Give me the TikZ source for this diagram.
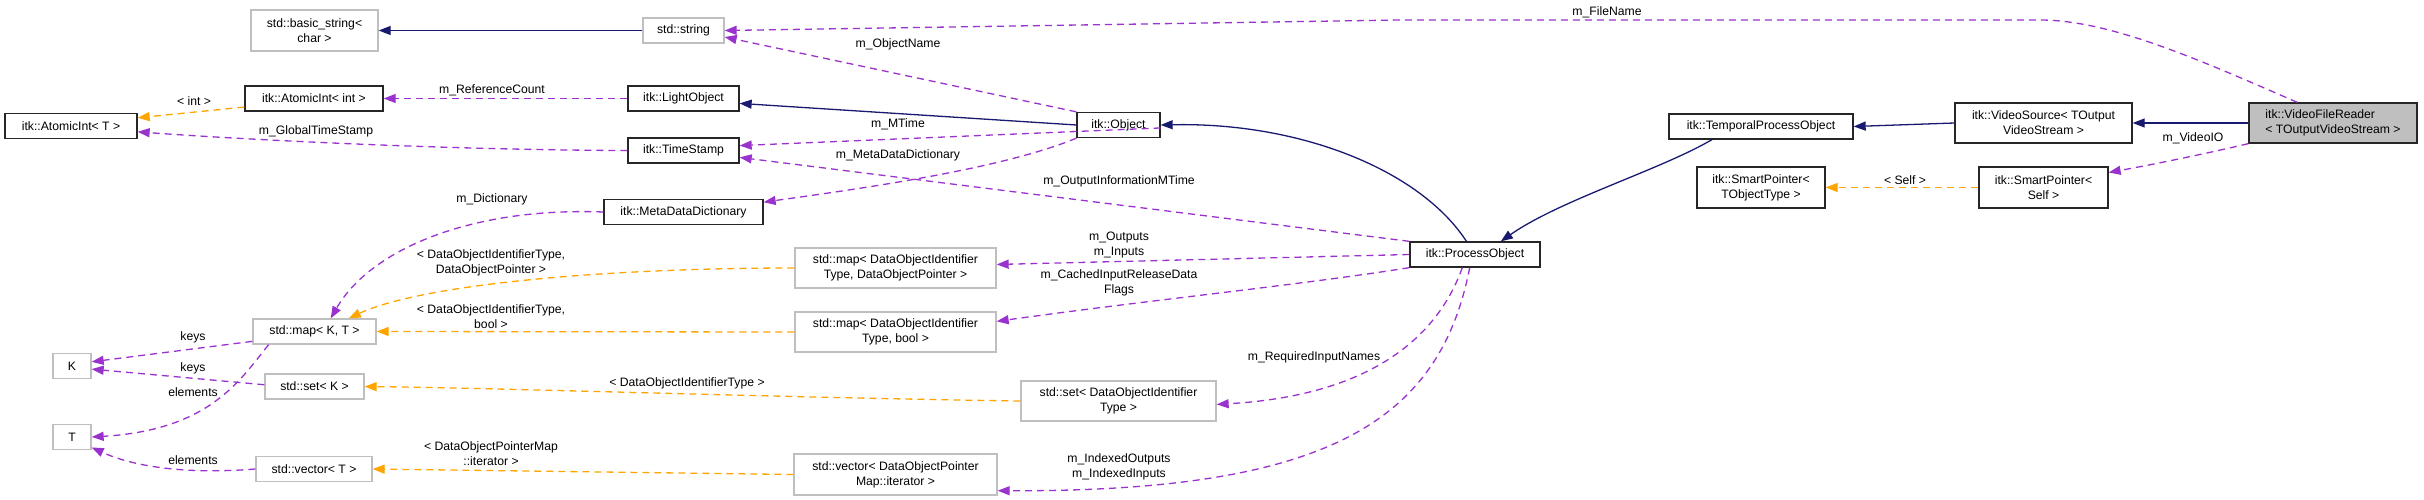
\documentclass[tikz,border=0pt]{standalone}
\usepackage{fontspec}
\setmainfont{Liberation Sans}
\usetikzlibrary{arrows.meta}
\definecolor{dxNavy}{HTML}{191970}
\definecolor{dxOrchid}{HTML}{9A32CD}
\definecolor{dxOrange}{HTML}{FFA500}
\definecolor{dxGray}{HTML}{BFBFBF}

\begin{document}
\begin{tikzpicture}[
  x=1pt, y=-1pt,
  font=\fontsize{12.2}{15}\selectfont,
  cls/.style={draw=black!85, line width=1.3pt, fill=white, align=center, inner sep=2pt, minimum height=25pt},
  ext/.style={cls, draw=dxGray},
  cur/.style={cls, fill=dxGray, align=left},
  lbl/.style={inner sep=0pt, align=center},
  inh/.style={-{Triangle[length=12pt,width=9pt]}, line width=1.3pt, draw=dxNavy},
  use/.style={-{Triangle[length=12pt,width=9pt]}, line width=1.3pt, draw=dxOrchid, dash pattern=on 7pt off 5pt},
  tpl/.style={use, draw=dxOrange}
]
  \useasboundingbox (0,0) rectangle (2424,500);

  \node[ext, minimum width=127pt, minimum height=41pt] (bstr) at (314.5,30.5) {std::basic\_string<\\char >};
  \node[ext, minimum width=81pt] (str) at (683.5,30.5) {std::string};
  \node[cls, minimum width=138pt] (aint) at (314,98.5) {itk::AtomicInt< int >};
  \node[cls, minimum width=111pt] (light) at (683.5,98.5) {itk::LightObject};
  \node[cls, minimum width=132pt] (aintT) at (71,126) {itk::AtomicInt< T >};
  \node[cls, minimum width=111pt] (tstamp) at (683.5,150.5) {itk::TimeStamp};
  \node[cls, minimum width=83pt] (obj) at (1118.5,125) {itk::Object};
  \node[cls, minimum width=159pt] (mdd) at (683.5,212) {itk::MetaDataDictionary};
  \node[ext, minimum width=123pt] (mapKT) at (314.5,331.5) {std::map< K, T >};
  \node[ext, minimum width=38pt] (keyK) at (72,366) {K};
  \node[ext, minimum width=99pt] (setK) at (314.5,386.5) {std::set< K >};
  \node[ext, minimum width=38pt] (elemT) at (72,437) {T};
  \node[ext, minimum width=116pt] (vecT) at (314,469) {std::vector< T >};
  \node[ext, minimum width=201pt, minimum height=40pt] (mapDOP) at (895.5,268) {std::map< DataObjectIdentifier\\Type, DataObjectPointer >};
  \node[ext, minimum width=201pt, minimum height=40pt] (mapBool) at (895.5,332) {std::map< DataObjectIdentifier\\Type, bool >};
  \node[ext, minimum width=195pt, minimum height=40pt] (setDOIT) at (1118.5,401) {std::set< DataObjectIdentifier\\Type >};
  \node[ext, minimum width=203pt, minimum height=41pt] (vecDOPM) at (895.5,474.5) {std::vector< DataObjectPointer\\Map::iterator >};
  \node[cls, minimum width=130pt] (proc) at (1475,254.5) {itk::ProcessObject};
  \node[cls, minimum width=184pt] (temporal) at (1761,126.5) {itk::TemporalProcessObject};
  \node[cls, minimum width=177pt, minimum height=40pt] (vsrc) at (2043.5,123) {itk::VideoSource< TOutput\\VideoStream >};
  \node[cur, minimum width=168pt, minimum height=40pt] (vfr) at (2333,123) {itk::VideoFileReader\\< TOutputVideoStream >};
  \node[cls, minimum width=128pt, minimum height=41pt] (spT) at (1761,187.5) {itk::SmartPointer<\\TObjectType >};
  \node[cls, minimum width=129pt, minimum height=41pt] (spSelf) at (2043.5,187.5) {itk::SmartPointer<\\Self >};

  \node[lbl] (lFile) at (1607,12) {m\_FileName};
  \node[lbl] (lRef) at (492,90) {m\_ReferenceCount};
  \node[lbl] (lInt) at (194,101) {< int >};
  \node[lbl] (lGlobal) at (316,131) {m\_GlobalTimeStamp};
  \node[lbl] (lName) at (898,44) {m\_ObjectName};
  \node[lbl] (lMTime) at (898,124) {m\_MTime};
  \node[lbl] (lMeta) at (898,155) {m\_MetaDataDictionary};
  \node[lbl] (lDict) at (492,199) {m\_Dictionary};
  \node[lbl] (lOutInfo) at (1119,181) {m\_OutputInformationMTime};
  \node[lbl] (lOutIn) at (1119,245) {m\_Outputs\\m\_Inputs};
  \node[lbl] (lCached) at (1119,283) {m\_CachedInputReleaseData\\Flags};
  \node[lbl] (lReq) at (1314,357) {m\_RequiredInputNames};
  \node[lbl] (lIdx) at (1119,467) {m\_IndexedOutputs\\m\_IndexedInputs};
  \node[lbl] (lPtr) at (491,263) {< DataObjectIdentifierType,\\DataObjectPointer >};
  \node[lbl] (lBool) at (491,317) {< DataObjectIdentifierType,\\bool >};
  \node[lbl] (lIdType) at (687,383) {< DataObjectIdentifierType >};
  \node[lbl] (lIter) at (491,454) {< DataObjectPointerMap\\::iterator >};
  \node[lbl] (lKeysA) at (193,337) {keys};
  \node[lbl] (lKeysB) at (193,368) {keys};
  \node[lbl] (lElemA) at (193,392) {elements};
  \node[lbl] (lElemB) at (193,460) {elements};
  \node[lbl] (lVideo) at (2193,138) {m\_VideoIO};
  \node[lbl] (lSelf) at (1905,180) {< Self >};

  \draw[inh] (str) -- (bstr);
  \draw[inh] (obj.west) -- (light.-5);
  \draw[inh] (proc.123) .. controls (1420,170) and (1300,122) .. (obj.east);
  \draw[inh] (temporal.195) .. controls (1660,170) and (1560,200) .. (proc.27);
  \draw[inh] (vsrc.west) -- (temporal.east);
  \draw[inh] (vfr.west) -- (vsrc.east);

  \draw[use] (vfr.150) .. controls (2200,60) and (2110,20) .. (2040,20) -- (1400,20) -- (str.east);
  \draw[use] (light.west) -- (aint.east);
  \draw[use] (tstamp.west) .. controls (450,150) and (250,140) .. (aintT.-5);
  \draw[use] (obj.north west) -- (str.-9);
  \draw[use] (obj.-4) -- (tstamp.5);
  \draw[use] (obj.south west) .. controls (1000,170) and (850,190) .. (mdd.7);
  \draw[use] (mdd.west) .. controls (470,207) and (370,250) .. (mapKT.39);
  \draw[use] (vfr.south west) .. controls (2200,155) and (2150,165) .. (spSelf.13);
  \draw[use] (proc.north west) -- (tstamp.-7);
  \draw[use] (proc.west) -- (mapDOP.2);
  \draw[use] (proc.south west) .. controls (1300,285) and (1150,300) .. (mapBool.6);
  \draw[use] (proc.226) .. controls (1440,330) and (1380,395) .. (setDOIT.-2);
  \draw[use] (proc.248) .. controls (1440,420) and (1330,492) .. (vecDOPM.-9);
  \draw[use] (mapKT.189) -- (keyK.12);
  \draw[use] (setK.178) -- (keyK.-9);
  \draw[use] (mapKT.196) .. controls (240,380) and (210,430) .. (elemT.east);
  \draw[use] (vecT.west) .. controls (180,475) and (130,465) .. (elemT.-28);

  \draw[tpl] (aint.187) -- (aintT.7);
  \draw[tpl] (spSelf.west) -- (spT.east);
  \draw[tpl] (mapDOP.west) .. controls (600,268) and (420,285) .. (mapKT.21);
  \draw[tpl] (mapBool.west) -- (mapKT.east);
  \draw[tpl] (setDOIT.west) .. controls (800,398) and (500,388) .. (setK.east);
  \draw[tpl] (vecDOPM.west) -- (vecT.east);
\end{tikzpicture}
\end{document}
